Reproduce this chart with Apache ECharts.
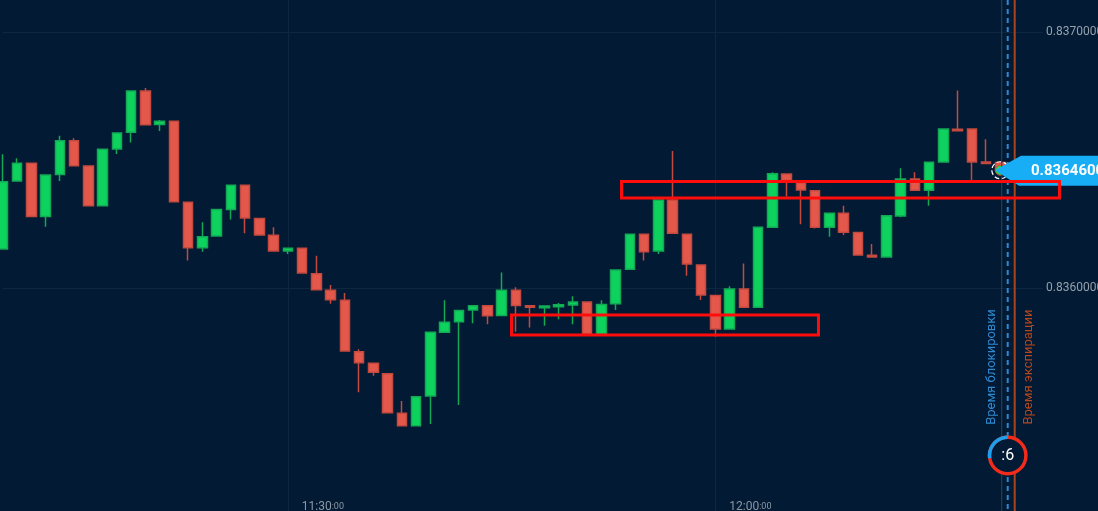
<!DOCTYPE html>
<html><head><meta charset="utf-8">
<script src="https://cdn.jsdelivr.net/npm/echarts@6/dist/echarts.min.js"></script>
<style>html,body{margin:0;padding:0;background:#021a33;overflow:hidden}#c{width:1098px;height:511px;}</style>
</head><body><div id="c"></div>
<script>
// 1-minute candles, k = -20 .. 53 (11:10 .. 12:23)
const categories = ['11:10','11:11','11:12','11:13','11:14','11:15','11:16','11:17','11:18','11:19',
'11:20','11:21','11:22','11:23','11:24','11:25','11:26','11:27','11:28','11:29',
'11:30','11:31','11:32','11:33','11:34','11:35','11:36','11:37','11:38','11:39',
'11:40','11:41','11:42','11:43','11:44','11:45','11:46','11:47','11:48','11:49',
'11:50','11:51','11:52','11:53','11:54','11:55','11:56','11:57','11:58','11:59',
'12:00','12:01','12:02','12:03','12:04','12:05','12:06','12:07','12:08','12:09',
'12:10','12:11','12:12','12:13','12:14','12:15','12:16','12:17','12:18','12:19',
'12:20','12:21','12:22','12:23'];
const xTickLabels = ['11:30','12:00'];
const yTicks = [0.836, 0.837];

const opens = [0.836152,0.836418,0.836487,0.836279,0.836443,0.836575,0.836477,0.836321,0.836543,0.836608,
0.836770,0.836639,0.836651,0.836335,0.836157,0.836203,0.836307,0.836401,0.836271,0.836206,
0.836145,0.836155,0.836056,0.835991,0.835952,0.835751,0.835706,0.835665,0.835511,0.835462,
0.835578,0.835827,0.835868,0.835914,0.835931,0.835893,0.835991,0.835931,0.835923,0.835927,
0.835934,0.835945,0.835820,0.835938,0.836073,0.836210,0.836145,0.836344,0.836210,0.836090,
0.835971,0.835840,0.835996,0.835925,0.836237,0.836445,0.836411,0.836380,0.836237,0.836292,
0.836217,0.836128,0.836121,0.836281,0.836426,0.836382,0.836492,0.836620,0.836621,0.836492,
0.836490];
const closes = [0.836415,0.836487,0.836279,0.836441,0.836575,0.836478,0.836321,0.836542,0.836605,0.836770,
0.836638,0.836651,0.836337,0.836157,0.836200,0.836307,0.836401,0.836273,0.836207,0.836145,
0.836155,0.836059,0.835993,0.835954,0.835754,0.835708,0.835671,0.835513,0.835462,0.835575,
0.835827,0.835866,0.835912,0.835931,0.835892,0.835991,0.835932,0.835925,0.835930,0.835935,
0.835945,0.835820,0.835936,0.836070,0.836210,0.836142,0.836344,0.836214,0.836094,0.835973,
0.835840,0.835996,0.835925,0.836237,0.836446,0.836420,0.836383,0.836237,0.836292,0.836218,
0.836129,0.836121,0.836282,0.836426,0.836382,0.836491,0.836621,0.836614,0.836492,0.836486,
0.836460];
const lows = [0.836152,0.836418,0.836279,0.836239,0.836418,0.836478,0.836321,0.836321,0.836523,0.836568,
0.836638,0.836613,0.836337,0.836107,0.836142,0.836203,0.836268,0.836214,0.836207,0.836145,
0.836133,0.836059,0.835993,0.835938,0.835754,0.835593,0.835657,0.835513,0.835462,0.835462,
0.835469,0.835825,0.835543,0.835862,0.835858,0.835893,0.835829,0.835846,0.835853,0.835878,
0.835858,0.835820,0.835820,0.835914,0.836073,0.836107,0.836133,0.836214,0.836048,0.835953,
0.835810,0.835840,0.835925,0.835925,0.836237,0.836357,0.836249,0.836232,0.836200,0.836207,
0.836129,0.836121,0.836121,0.836276,0.836382,0.836321,0.836492,0.836614,0.836422,0.836486,
0.836455];
const highs = [0.836522,0.836507,0.836487,0.836441,0.836595,0.836585,0.836477,0.836542,0.836605,0.836770,
0.836781,0.836656,0.836651,0.836335,0.836257,0.836307,0.836401,0.836401,0.836271,0.836237,
0.836155,0.836155,0.836126,0.836012,0.835980,0.835761,0.835706,0.835665,0.835559,0.835575,
0.835827,0.835952,0.835912,0.835931,0.835931,0.836061,0.836003,0.835931,0.835930,0.835941,
0.835968,0.835945,0.835952,0.836070,0.836210,0.836210,0.836344,0.836535,0.836210,0.836090,
0.835971,0.836007,0.836096,0.836237,0.836452,0.836445,0.836411,0.836380,0.836292,0.836321,
0.836217,0.836172,0.836282,0.836468,0.836452,0.836491,0.836621,0.836771,0.836621,0.836581,
0.836492];

// annotation zones (fractional category index, price levels)
const zones = [
  {from: 43.42, to: 74.15, top: 0.836416, bottom: 0.836352},
  {from: 35.70, to: 57.24, top: 0.835895, bottom: 0.835816}
];
const serverIdx = 70.10, lockIdx = 70.52, expiryIdx = 71.01;
const lockLabel = 'Время блокировки';
const expiryLabel = 'Время экспирации';
const timerText = ':6';

const BG = '#021a33';
const candleData = opens.map((o, i) => [o, closes[i], lows[i], highs[i]]);
const lastIdx = closes.length - 1;
const lastClose = closes[lastIdx];

const chart = echarts.init(document.getElementById('c'), null, {renderer: 'canvas'});
chart.setOption({
  backgroundColor: BG,
  animation: false,
  textStyle: {fontFamily: 'Roboto'},
  grid: {left: 2.8, right: 54.95, top: 0, bottom: 0, containLabel: false, outerBoundsMode: 'none'},
  xAxis: {
    type: 'category', data: categories, boundaryGap: false,
    axisLine: {show: false}, axisTick: {show: false},
    splitLine: {show: true, interval: (i, v) => xTickLabels.includes(v), lineStyle: {color: '#0d2741', width: 1}},
    axisLabel: {
      interval: (i, v) => xTickLabels.includes(v),
      formatter: v => '{a|' + v + '}{b|:00}',
      align: 'left', margin: -10, padding: [0, 0, 0, 14],
      rich: {a: {fontSize: 12, color: '#8d98a4', fontFamily: 'Roboto'}, b: {fontSize: 9, color: '#8d98a4', fontFamily: 'Roboto'}}
    }
  },
  yAxis: {
    type: 'value', position: 'right', scale: true,
    min: 0.8351289, max: 0.837125,
    axisLine: {show: false},
    axisTick: {show: false, customValues: yTicks},
    splitLine: {show: true, lineStyle: {color: '#0d2741', width: 1}},
    axisLabel: {customValues: yTicks, margin: 3, color: '#95a0ab', fontSize: 12, fontFamily: 'Roboto',
      formatter: v => v.toFixed(7)}
  },
  series: [{
    type: 'candlestick', data: candleData, barWidth: 10, clip: false,
    itemStyle: {color: '#0dd35e', color0: '#e3584b', borderColor: '#13a955', borderColor0: '#c44a40', borderWidth: 1.5},
    markLine: {
      silent: true, symbol: 'none', animation: false,
      label: {show: false},
      lineStyle: {color: '#1b6aa6', width: 1.5, type: 'solid'},
      data: [{yAxis: lastClose}]
    },
    markPoint: {
      silent: true, animation: false, label: {show: false},
      data: [
        {coord: [categories[lastIdx], lastClose], symbol: 'circle', symbolSize: 17,
          itemStyle: {color: 'rgba(0,0,0,0)', borderColor: '#ffffff', borderWidth: 1.2, borderType: 'dashed'}},
        {coord: [categories[lastIdx], lastClose], symbol: 'circle', symbolSize: 10,
          itemStyle: {color: '#2bd34b', borderColor: '#d8443a', borderWidth: 1}}
      ]
    }
  }]
});

function xAt(f) {
  const x0 = chart.convertToPixel({xAxisIndex: 0}, categories[0]);
  const x1 = chart.convertToPixel({xAxisIndex: 0}, categories[1]);
  return x0 + f * (x1 - x0);
}
function yAt(p) { return chart.convertToPixel({yAxisIndex: 0}, p); }

const W = 1098, H = 511;
const xServer = xAt(serverIdx), xLock = xAt(lockIdx), xExp = xAt(expiryIdx);
const yC = yAt(lastClose);
const tipX = xAt(lastIdx) - 5.3;
const cx = xLock, cy = 455.5, r = 18.2;
const g = [];
g.push({type: 'line', z: 50, shape: {x1: xServer, y1: 0, x2: xServer, y2: H}, style: {stroke: '#2a4562', lineWidth: 1}});
g.push({type: 'line', z: 50, shape: {x1: xLock, y1: 0, x2: xLock, y2: H}, style: {stroke: '#2a8ad4', lineWidth: 2, lineDash: [5, 4]}});
g.push({type: 'line', z: 50, shape: {x1: xExp, y1: 0, x2: xExp, y2: H}, style: {stroke: '#a9451d', lineWidth: 2}});
g.push({type: 'text', z: 55, x: xLock - 15.5, y: 367, rotation: Math.PI / 2,
  style: {text: lockLabel, fill: '#2d8ad3', font: '13px Roboto', align: 'center', verticalAlign: 'middle'}});
g.push({type: 'text', z: 55, x: xExp + 14, y: 367, rotation: Math.PI / 2,
  style: {text: expiryLabel, fill: '#b3471e', font: '13px Roboto', align: 'center', verticalAlign: 'middle'}});
g.push({type: 'circle', z: 60, shape: {cx: cx, cy: cy, r: r}, style: {fill: BG, stroke: '#f22b1b', lineWidth: 3.5}});
g.push({type: 'arc', z: 61, shape: {cx: cx, cy: cy, r: r, startAngle: Math.PI * 0.95, endAngle: Math.PI * 1.5, clockwise: true},
  style: {stroke: '#1ea0ee', lineWidth: 3.5, fill: null}});
g.push({type: 'text', z: 62, x: cx, y: cy, style: {text: timerText, fill: '#ffffff', font: '16px Roboto', align: 'center', verticalAlign: 'middle'}});
g.push({type: 'polygon', z: 60, shape: {points: [[tipX, yC], [tipX + 26, yC - 14.5], [W, yC - 14.5], [W, yC + 15.5], [tipX + 24, yC + 15.5]]},
  style: {fill: '#17aef5'}});
g.push({type: 'text', z: 61, x: tipX + 36, y: yC + 1, style: {text: lastClose.toFixed(7), fill: '#ffffff', font: 'bold 15px Roboto', align: 'left', verticalAlign: 'middle'}});
zones.forEach(zn => {
  const x1 = xAt(zn.from), x2 = xAt(zn.to), y1 = yAt(zn.top), y2 = yAt(zn.bottom);
  g.push({type: 'rect', z: 70, shape: {x: x1, y: y1, width: x2 - x1, height: y2 - y1}, style: {fill: null, stroke: '#ff0d0d', lineWidth: 3}});
});
chart.setOption({graphic: g});
</script>
</body></html>
